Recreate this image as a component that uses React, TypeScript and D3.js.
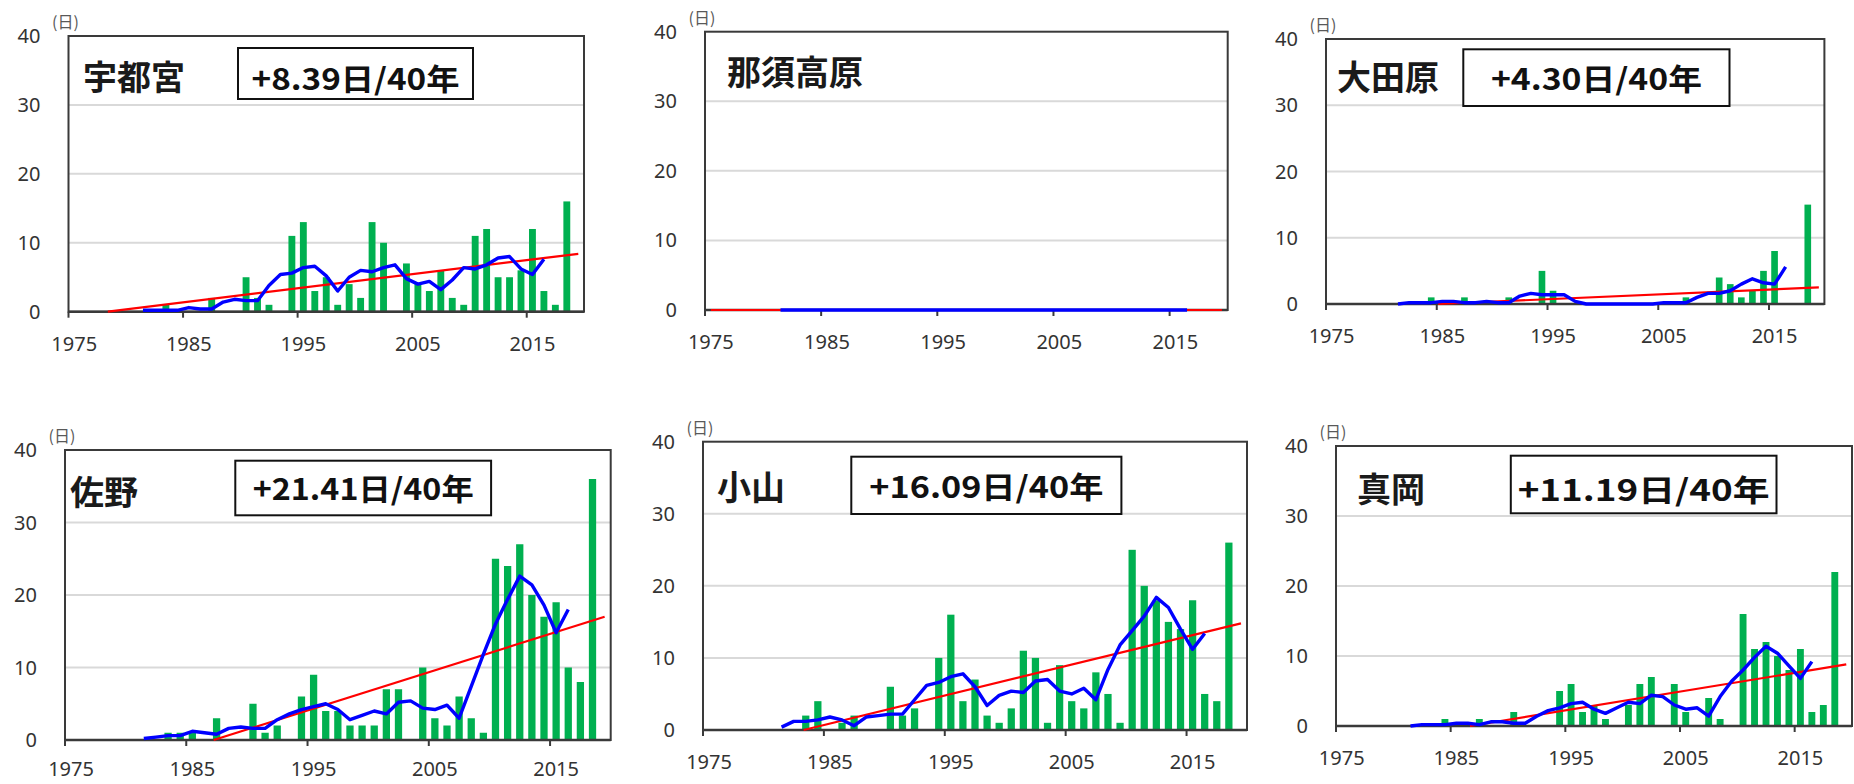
import React from "react";
import * as d3 from "d3";

// yearly counts (days), 1979-2018
const years = d3.range(1979, 2019);

const stations = ["宇都宮", "那須高原", "大田原", "佐野", "小山", "真岡"];
const trendLabels = ["+8.39日/40年", "", "+4.30日/40年", "+21.41日/40年", "+16.09日/40年", "+11.19日/40年"];

const utsunomiya = [0, 0, 0, 0, 1, 0, 0, 0, 2, 0, 0, 5, 2, 1, 0, 11, 13, 3, 5, 1, 4, 2, 13, 10, 0, 7, 4, 3, 6, 2, 1, 11, 12, 5, 5, 6, 12, 3, 1, 16];
const nasu = [0, 0, 0, 0, 0, 0, 0, 0, 0, 0, 0, 0, 0, 0, 0, 0, 0, 0, 0, 0, 0, 0, 0, 0, 0, 0, 0, 0, 0, 0, 0, 0, 0, 0, 0, 0, 0, 0, 0, 0];
const otawara = [0, 0, 0, 0, 0, 1, 0, 0, 1, 0, 0, 0, 1, 0, 0, 5, 2, 0, 0, 0, 0, 0, 0, 0, 0, 0, 0, 0, 1, 0, 0, 4, 3, 1, 2, 5, 8, 0, 0, 15];
const sano = [0, 0, 0, 0, 1, 1, 1, 0, 3, 0, 0, 5, 1, 2, 0, 6, 9, 4, 4, 2, 2, 2, 7, 7, 0, 10, 3, 2, 6, 3, 1, 25, 24, 27, 20, 17, 19, 10, 8, 36];
const oyama = [0, 0, 0, 0, 2, 4, 0, 1, 2, 0, 0, 6, 2, 3, 0, 10, 16, 4, 7, 2, 1, 3, 11, 10, 1, 9, 4, 3, 8, 5, 1, 25, 20, 18, 15, 14, 18, 5, 4, 26];
const moka = [0, 0, 0, 0, 0, 1, 0, 0, 1, 0, 0, 2, 0, 0, 0, 5, 6, 2, 3, 1, 0, 3, 6, 7, 0, 6, 2, 0, 4, 1, 0, 16, 11, 12, 10, 8, 11, 2, 3, 22];
const series = [utsunomiya, nasu, otawara, sano, oyama, moka];

// linear trend read at the two ends of the axis (1975.5 and 2019.5)
const trendStart = [-0.6, 0, -0.7, -6.2, -3.2, -3.0];
const trendEnd = [8.4, 0, 2.5, 17.0, 14.8, 8.8];

const xTicks = [1975, 1985, 1995, 2005, 2015];
const yTicks = [0, 10, 20, 30, 40];

// where each pasted chart sits on the page
const layout = [
  { left: 68.5, right: 584, top: 36, bottom: 311.7, name: [83, 75], box: [238, 48, 473, 99], textW: 208, textY: 77 },
  { left: 705, right: 1227.7, top: 31.7, bottom: 310, name: [727, 70], box: null, textW: 0, textY: 0 },
  { left: 1326, right: 1824.4, top: 39, bottom: 304, name: [1337, 75], box: [1463.3, 49.3, 1729.5, 106], textW: 211, textY: 77 },
  { left: 65, right: 610.7, top: 450, bottom: 740, name: [70, 490], box: [235.3, 460.7, 491.1, 515.3], textW: 221, textY: 487 },
  { left: 703, right: 1247, top: 441.7, bottom: 730, name: [717, 485], box: [851.3, 456.7, 1121.4, 514], textW: 234, textY: 484.5 },
  { left: 1336, right: 1852, top: 446, bottom: 726, name: [1357, 487.7], box: [1510.8, 455.7, 1776.5, 513.3], textW: 252, textY: 487.5 },
];

const axisColor = "#3a3a3a";
const labelColor = "#333";

function Panel({ i }: { i: number }) {
  const g = layout[i];
  const values = series[i];
  const x = d3.scaleLinear().domain([1975, 2020]).range([g.left, g.right]);
  const y = d3.scaleLinear().domain([0, 40]).range([g.bottom, g.top]);
  const step = x(1976) - x(1975);
  const bw = step * 0.6;

  // 5-year centred running mean
  const ma = years.map((yr, k) =>
    k < 2 || k > years.length - 3 ? null : (d3.mean(values.slice(k - 2, k + 3)) as number)
  );
  const maLine = d3
    .line<number | null>()
    .defined((d) => d != null)
    .x((d, k) => x(years[k] + 0.5))
    .y((d) => y(d as number));

  // trend, cut where it falls below zero
  const t0 = 1975.5, t1 = 2019.5;
  const s = trendStart[i], e = trendEnd[i];
  let xs = t0, vs = s;
  if (s < 0 && e > 0) {
    xs = t0 + ((0 - s) / (e - s)) * (t1 - t0);
    vs = 0;
  }
  const trendPath = d3.line<[number, number]>().x((d) => x(d[0])).y((d) => y(d[1]))([
    [xs, vs],
    [t1, e],
  ]);

  const xLabelY = Math.min(g.bottom + 39, 776);

  return (
    <g>
      {yTicks.slice(1, 4).map((t) => (
        <line key={t} x1={g.left} x2={g.right} y1={y(t)} y2={y(t)} stroke="#d9d9d9" strokeWidth={2} />
      ))}
      {values.map((v, k) =>
        v > 0 ? (
          <rect key={k} x={x(years[k] + 0.5) - bw / 2} y={y(v)} width={bw} height={y(0) - y(v)} fill="#00b050" />
        ) : null
      )}
      <rect x={g.left} y={g.top} width={g.right - g.left} height={g.bottom - g.top} fill="none" stroke={axisColor} strokeWidth={2} />
      <line x1={g.left} x2={g.right} y1={y(0)} y2={y(0)} stroke={axisColor} strokeWidth={2.4} />
      {xTicks.map((t) => (
        <line key={t} x1={x(t)} x2={x(t)} y1={y(0)} y2={y(0) + 6} stroke={axisColor} strokeWidth={2} />
      ))}
      <path d={trendPath || ""} fill="none" stroke="#ff0000" strokeWidth={2.2} />
      <path d={maLine(ma) || ""} fill="none" stroke="#0000ff" strokeWidth={3.4} strokeLinejoin="round" />
      {yTicks.map((t) => (
        <text key={t} x={g.left - 28} y={y(t) + 7} textAnchor="end" fontSize={20} fill={labelColor} fontFamily="'Noto Sans', sans-serif">
          {t}
        </text>
      ))}
      {xTicks.map((t) => (
        <text key={t} x={x(t + 0.5)} y={xLabelY} textAnchor="middle" fontSize={20} fill={labelColor} fontFamily="'Noto Sans', sans-serif">
          {t}
        </text>
      ))}
      <text x={g.left - 3} y={g.top - 8} textAnchor="middle" fontSize={16} fill="#595959" fontFamily="'Noto Sans CJK JP', sans-serif">
        (日)
      </text>
      <text x={g.name[0]} y={g.name[1]} dominantBaseline="central" fontSize={34} fontWeight="bold" fill="#1a1a1a" fontFamily="'Noto Sans CJK JP', sans-serif">
        {stations[i]}
      </text>
      {g.box && (
        <g>
          <rect x={g.box[0]} y={g.box[1]} width={g.box[2] - g.box[0]} height={g.box[3] - g.box[1]} fill="#fff" stroke="#111" strokeWidth={2} />
          <text
            x={(g.box[0] + g.box[2]) / 2}
            y={g.textY}
            textAnchor="middle"
            dominantBaseline="central"
            fontSize={30}
            fontWeight="bold"
            fill="#111"
            textLength={g.textW}
            lengthAdjust="spacingAndGlyphs"
            fontFamily="'Noto Sans CJK JP', sans-serif"
          >
            {trendLabels[i]}
          </text>
        </g>
      )}
    </g>
  );
}

export default function App() {
  return (
    <div>
      <style>{`body{margin:0;background:#fff}`}</style>
      <svg width={1854} height={784} style={{ display: "block" }}>
        <rect width={1854} height={784} fill="#fff" />
        {stations.map((s, i) => (
          <Panel key={s} i={i} />
        ))}
      </svg>
    </div>
  );
}
